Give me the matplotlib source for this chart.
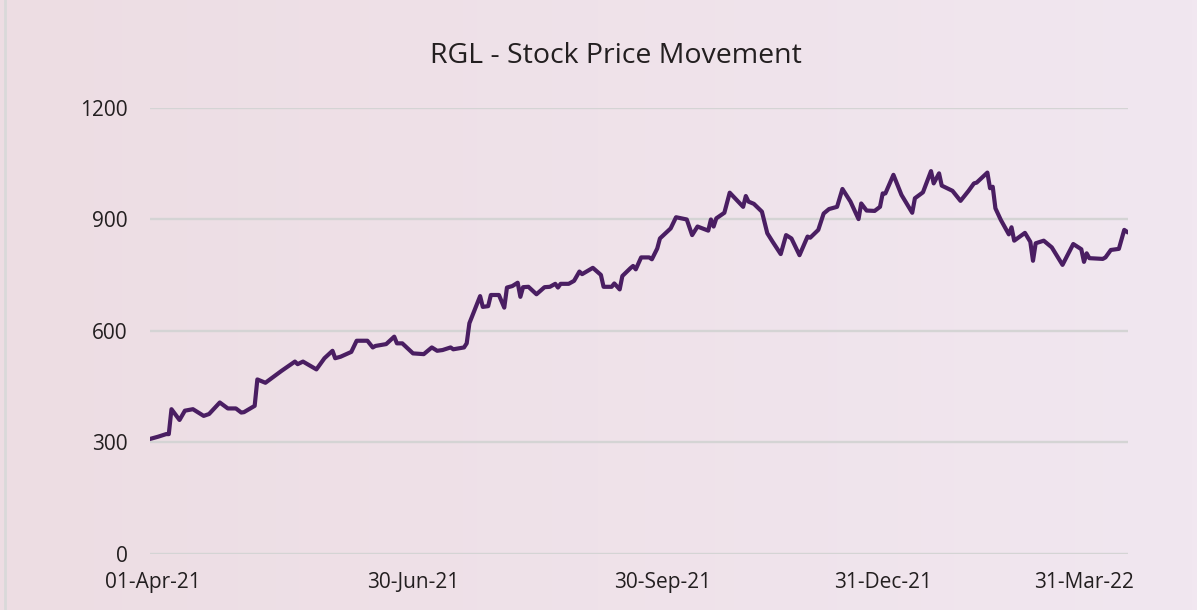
import matplotlib.pyplot as plt
import numpy as np
from matplotlib.lines import Line2D

# trading day offset from 01-Apr-21 and closing price
days = [0, 3, 6, 7, 8, 11, 13, 16, 20, 22, 26, 29, 32, 34, 35, 38, 39, 40, 43, 49,
        54, 55, 57, 62, 65, 68, 69, 71, 75, 77, 81, 83, 84, 88, 91, 92, 94, 98, 102, 105,
        107, 109, 112, 113, 117, 118, 119, 123, 124, 126, 127, 130, 132, 133, 135, 137, 138, 139, 141, 144,
        147, 149, 151, 152, 153, 156, 158, 160, 161, 165, 168, 169, 172, 173, 175, 176, 179, 180, 181, 183,
        186, 187, 189, 190, 194, 196, 200, 202, 204, 208, 209, 210, 211, 214, 216, 221, 222, 223, 225, 228,
        230, 232, 235, 237, 239, 242, 245, 246, 249, 251, 253, 256, 258, 261, 264, 265, 267, 270, 272, 273,
        274, 277, 280, 284, 285, 288, 291, 292, 294, 295, 299, 302, 305, 307, 308, 312, 313, 314, 315, 317,
        320, 321, 322, 326, 328, 329, 330, 333, 336, 340, 344, 347, 348, 349, 350, 355, 356, 358, 361, 363,
        364]
price = [309, 315, 322, 322, 389, 360, 385, 389, 371, 376, 407, 391, 391, 380, 381, 394, 398, 469, 460, 492,
         517, 510, 517, 496, 526, 546, 526, 530, 543, 573, 573, 555, 559, 564, 584, 566, 566, 539, 537, 555,
         546, 548, 555, 550, 555, 566, 620, 693, 664, 666, 696, 696, 662, 716, 720, 729, 691, 717, 718, 698,
         717, 718, 726, 716, 726, 726, 734, 759, 752, 769, 750, 718, 718, 727, 711, 747, 768, 774, 765, 797,
         797, 792, 821, 848, 875, 905, 899, 857, 880, 869, 899, 880, 902, 917, 971, 933, 962, 947, 941, 920,
         862, 839, 806, 857, 848, 803, 853, 850, 871, 915, 927, 933, 981, 947, 900, 942, 923, 922, 933, 969,
         969, 1019, 965, 917, 956, 972, 1029, 996, 1023, 990, 976, 949, 976, 996, 998, 1025, 983, 987, 929, 898,
         859, 878, 842, 863, 839, 788, 835, 842, 824, 777, 833, 819, 785, 808, 795, 793, 797, 817, 820, 871,
         866]

tick_days = [1, 98, 191, 273, 348]
tick_labels = ['01-Apr-21', '30-Jun-21', '30-Sep-21', '31-Dec-21', '31-Mar-22']
y_ticks = [0, 300, 600, 900, 1200]

plt.rcParams['font.family'] = ['Open Sans', 'DejaVu Sans']
text_color = '#231f20'

fig = plt.figure(figsize=(11.97, 6.10), dpi=100)

# soft pink -> lavender background
bg = fig.add_axes([0, 0, 1, 1], zorder=-10)
left_c = np.array([237, 221, 227]) / 255
right_c = np.array([241, 231, 240]) / 255
t = np.linspace(0, 1, 256)[None, :, None]
grad = left_c * (1 - t) + right_c * t
grad = np.repeat(grad, 2, axis=0)
bg.imshow(grad, aspect='auto', extent=[0, 1, 0, 1])
bg.axis('off')
fig.add_artist(Line2D([5 / 1197, 5 / 1197], [0, 1], color='#d9d9d9', lw=2, transform=fig.transFigure))

ax = fig.add_axes([150 / 1197, 1 - 553.9 / 610, 978 / 1197, (553.9 - 107.5) / 610])
ax.patch.set_alpha(0)

ax.plot(days, price, color='#4a1e62', lw=3.0, solid_joinstyle='round', zorder=3)

ax.set_xlim(0, 364.4)
ax.set_ylim(0, 1200)
ax.set_yticks(y_ticks)
ax.set_yticklabels([str(v) for v in y_ticks])
ax.set_xticks(tick_days)
ax.set_xticklabels(tick_labels)
ax.tick_params(axis='both', length=0, labelsize=15, labelcolor=text_color)
ax.tick_params(axis='y', pad=16)
ax.tick_params(axis='x', pad=13)
ax.grid(axis='y', color='#d4d4d4', lw=1.7)
for s in ax.spines.values():
    s.set_visible(False)

fig.text(616 / 1197, 1 - 56 / 610, 'RGL - Stock Price Movement', ha='center', va='center',
         fontsize=20.5, color=text_color)

fig.savefig('out.png', dpi=100)
